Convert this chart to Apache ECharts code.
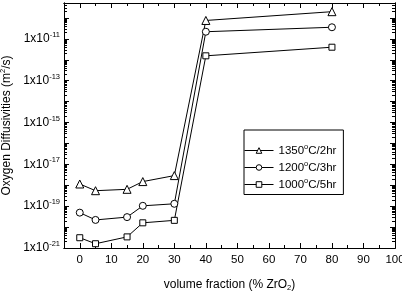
<!DOCTYPE html>
<html>
<head>
    <title>Oxygen diffusivities</title>
    <meta http-equiv="content-type" content="text/html; charset=utf-8">
    <script src="https://cdn.jsdelivr.net/npm/echarts@6/dist/echarts.min.js"></script>
    <style type="text/css">
    html, body { margin:0; padding:0; background:#fff; }
    #main { width:402px; height:291px; }
    </style>
</head>
<body>
    <div id="main"></div>
    <script type="text/javascript">
    // volume fraction ZrO2 (%)
    var xVals = [0, 5, 15, 20, 30, 40, 80];
    // diffusivities (m2/s)
    var d1350 = [1.15e-18, 5.5e-19, 6.4e-19, 1.5e-18, 2.9e-18, 7.6e-11, 2.0e-10];
    var d1200 = [4.9e-20, 2.2e-20, 3.0e-20, 1.04e-19, 1.3e-19, 2.2e-11, 3.6e-11];
    var d1000 = [3.1e-21, 1.6e-21, 3.4e-21, 1.6e-20, 2.1e-20, 1.55e-12, 4.0e-12];
    var names = ['1350', '1200', '1000'];
    var times = ['2hr', '3hr', '5hr'];

    var xTicks = [0, 10, 20, 30, 40, 50, 60, 70, 80, 90, 100];
    var xMinor = [-5, 5, 15, 25, 35, 45, 55, 65, 75, 85, 95];
    var yLabelExp = [-21, -19, -17, -15, -13, -11];
    var yMin = 1e-21, yMax = 5.2e-10;

    var yMajor = [], yMinor = [];
    for (var e = -21; e <= -10; e++) {
        yMajor.push(Math.pow(10, e));
        for (var m = 2; m <= 9; m++) {
            var v = m * Math.pow(10, e);
            if (v < yMax) yMinor.push(v);
        }
    }
    var yLabelVals = yLabelExp.map(function (e) { return Math.pow(10, e); });

    function pairs(ys) {
        return xVals.map(function (x, i) { return [x, ys[i]]; });
    }

    var font = 'Liberation Sans, Arial, sans-serif';
    var black = '#000';

    function xAx(grid, pos, ticks, len, labels) {
        return {
            type: 'value', gridIndex: grid, position: pos, min: -5, max: 100,
            axisLine: { show: true, onZero: false, lineStyle: { color: black, width: 1 } },
            axisTick: { show: true, inside: true, length: len, customValues: ticks, lineStyle: { color: black } },
            axisLabel: { show: !!labels, customValues: xTicks, color: black, fontSize: 11.5, fontFamily: font, margin: 6 },
            splitLine: { show: false }
        };
    }
    function yAx(grid, pos, ticks, len, labels) {
        return {
            type: 'log', logBase: 10, gridIndex: grid, position: pos, min: yMin, max: yMax,
            axisLine: { show: true, onZero: false, lineStyle: { color: black, width: 1 } },
            axisTick: { show: true, inside: true, length: len, customValues: ticks, lineStyle: { color: black } },
            axisLabel: {
                show: !!labels, customValues: yLabelVals, margin: 4,
                formatter: function (v) {
                    var e = Math.round(Math.log10(v));
                    return '{b|1x10}{s|' + e + '}';
                },
                rich: {
                    b: { color: black, fontSize: 12, fontFamily: font },
                    s: { color: black, fontSize: 7.5, fontFamily: font, padding: [0, 0, 8, 0] }
                }
            },
            splitLine: { show: false }
        };
    }

    var xMain = xAx(0, 'bottom', xTicks, 5, true);
    xMain.name = 'volume fraction (% ZrO{u|2})';
    xMain.nameLocation = 'middle';
    xMain.nameGap = 29;
    xMain.nameTextStyle = {
        color: black, fontSize: 12, fontFamily: font,
        rich: { u: { color: black, fontSize: 7.5, fontFamily: font, padding: [7, 0, 0, 0] } }
    };
    var yMainAx = yAx(0, 'left', yMajor, 5, true);
    yMainAx.name = 'Oxygen Diffusivities (m{s|2}/s)';
    yMainAx.nameLocation = 'middle';
    yMainAx.nameGap = 48;
    yMainAx.nameTextStyle = {
        color: black, fontSize: 12, fontFamily: font,
        rich: { s: { color: black, fontSize: 7.5, fontFamily: font, padding: [0, 0, 7, 0] } }
    };

    var symbols = ['triangle', 'circle', 'rect'];
    var sizes = [8, 7, 6];
    var sets = [d1350, d1200, d1000];
    var series = sets.map(function (d, i) {
        return {
            name: names[i],
            type: 'line',
            xAxisIndex: 0, yAxisIndex: 0,
            data: pairs(d),
            symbol: symbols[i],
            symbolSize: sizes[i],
            showAllSymbol: true,
            lineStyle: { color: black, width: 1 },
            itemStyle: { color: '#fff', borderColor: black, borderWidth: 1 },
            emphasis: { disabled: true },
            z: 3
        };
    });

    var gridBox = { left: 64, right: 7, top: 3, bottom: 43, containLabel: false, outerBoundsMode: 'none' };

    var myChart = echarts.init(document.getElementById('main'));
    myChart.setOption({
        backgroundColor: '#fff',
        animation: false,
        grid: [gridBox, Object.assign({}, gridBox)],
        xAxis: [
            xMain,
            xAx(0, 'top', xTicks, 5, false),
            xAx(1, 'bottom', xMinor, 3, false),
            xAx(1, 'top', xMinor, 3, false)
        ],
        yAxis: [
            yMainAx,
            yAx(0, 'right', yMajor, 5, false),
            yAx(1, 'left', yMinor, 3, false),
            yAx(1, 'right', yMinor, 3, false)
        ],
        legend: {
            orient: 'vertical',
            left: 244, top: 130,
            padding: [13, 7, 4, 0],
            itemWidth: 29, itemHeight: 7, itemGap: 3.5,
            backgroundColor: '#fff',
            borderColor: black, borderWidth: 1, borderRadius: 0,
            selectedMode: false,
            data: names,
            itemStyle: { color: '#fff', borderColor: black, borderWidth: 1 },
            lineStyle: { color: black, width: 1 },
            formatter: function (n) {
                var i = names.indexOf(n);
                return n + '{o|o}C/' + times[i];
            },
            textStyle: {
                color: black, fontSize: 11.5, fontFamily: font,
                rich: { o: { color: black, fontSize: 7.5, fontFamily: font, padding: [0, 0, 7, 0] } }
            }
        },
        series: series
    });
    </script>
</body>
</html>
